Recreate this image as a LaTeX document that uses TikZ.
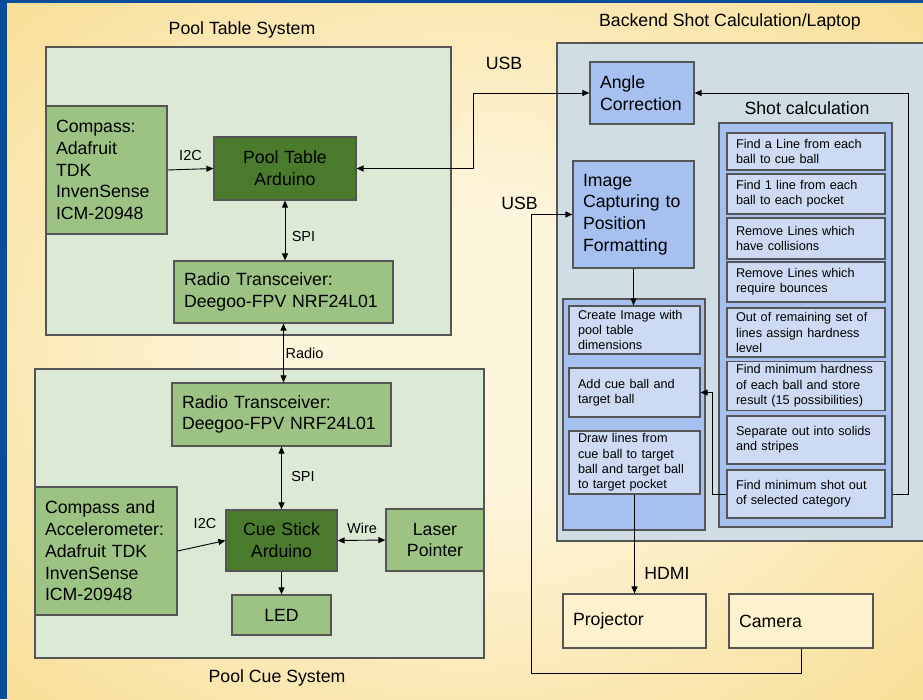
\documentclass[tikz,border=0pt]{standalone}
\usepackage{fontspec}
\setmainfont{Liberation Sans}
\usetikzlibrary{arrows.meta}

\definecolor{bgblue}{HTML}{0A4E9B}
\definecolor{bggold}{HTML}{F6D578}
\definecolor{bgcream}{HTML}{FDF5DC}
\definecolor{sysgreen}{HTML}{DCE9D5}
\definecolor{midgreen}{HTML}{9DC384}
\definecolor{darkgreen}{HTML}{4A7A2C}
\definecolor{backfill}{HTML}{D0DDE4}
\definecolor{midblue}{HTML}{A6C1EF}
\definecolor{paleblue}{HTML}{CCDBF3}
\definecolor{cream}{HTML}{FDF1CE}
\definecolor{boxline}{HTML}{555555}

\pgfdeclareradialshading{bgshade}{\pgfpoint{0bp}{0bp}}{color(0bp)=(bgcream); color(10bp)=(bgcream); color(47bp)=(bggold); color(80bp)=(bggold)}

\newcommand\boxfont{\fontsize{17.7}{21.7}\selectfont}
\newcommand\lblfont{\fontsize{14.5}{17}\selectfont}
\newcommand\stepfont{\fontsize{12.7}{15.3}\selectfont}

\begin{document}
\begin{tikzpicture}[x=1pt,y=-1pt]
\tikzstyle{sysbox}=[draw=boxline, line width=1.2pt, inner sep=0pt]
\tikzstyle{gbox}=[draw=boxline, fill=midgreen, line width=1.2pt, inner xsep=10pt, inner ysep=0pt, align=left, font=\boxfont]
\tikzstyle{bbox}=[gbox, fill=midblue]
\tikzstyle{stepbox}=[draw=boxline, fill=paleblue, line width=1.2pt, inner xsep=9pt, inner ysep=0pt, align=left, font=\stepfont]
\tikzstyle{lbl}=[font=\lblfont, inner sep=1pt]
\tikzstyle{title}=[font=\boxfont, inner sep=1pt]
\tikzstyle{link}=[line width=0.9pt, -{Triangle[length=7pt,width=6pt]}]
\tikzstyle{link2}=[line width=0.9pt, {Triangle[length=7pt,width=6pt]}-{Triangle[length=7pt,width=6pt]}]

\useasboundingbox (0,0) rectangle (923,699);
\fill[bgblue] (0,0) rectangle (923,699);
\shade[shading=bgshade] (7,3) rectangle (923,699);

% pool table system
\node[title] (pttitle) at (242,30) {Pool Table System};
\node[sysbox, fill=sysgreen, minimum width=405, minimum height=288] (ptsys) at (248.5,191) {};
\node[gbox, text width=101, minimum height=128] (compass1) at (106.5,170) {Compass:\\Adafruit\\TDK\\InvenSense\\ICM-20948};
\node[gbox, fill=darkgreen, text width=122, minimum height=63, align=center] (ptard) at (285,168.5) {Pool Table\\Arduino};
\node[gbox, text width=199, minimum height=62] (radio1) at (283.5,292) {Radio Transceiver:\\Deegoo-FPV NRF24L01};

% pool cue system
\node[sysbox, fill=sysgreen, minimum width=449, minimum height=289] (pcsys) at (259.5,513.5) {};
\node[title] (pctitle) at (277,678) {Pool Cue System};
\node[gbox, text width=199, minimum height=63] (radio2) at (281.5,414.5) {Radio Transceiver:\\Deegoo-FPV NRF24L01};
\node[gbox, text width=122, minimum height=128] (compass2) at (106,551) {Compass and\\Accelerometer:\\Adafruit TDK\\InvenSense\\ICM-20948};
\node[gbox, fill=darkgreen, text width=91, minimum height=61, align=center] (cueard) at (281.5,540.5) {Cue Stick\\Arduino};
\node[gbox, text width=78, minimum height=62, align=center] (laser) at (435,540) {Laser\\Pointer};
\node[gbox, text width=79, minimum height=40, align=center] (led) at (281.5,615) {LED};

% backend
\node[title] (betitle) at (730,22) {Backend Shot Calculation/Laptop};
\node[sysbox, fill=backfill, minimum width=380, minimum height=498] (backend) at (747,292) {};
\node[bbox, text width=84, minimum height=62] (angle) at (642,93) {Angle\\Correction};
\node[bbox, text width=101, minimum height=107] (imgcap) at (633.5,214.5) {Image\\Capturing to\\Position\\Formatting};

\node[sysbox, fill=midblue, minimum width=142, minimum height=231] (drawcont) at (634,414.5) {};
\foreach \n/\y/\h/\txt in {a/330/48/{Create Image with\\pool table\\dimensions},
                           b/392.5/49/{Add cue ball and\\target ball},
                           c/462.5/63/{Draw lines from\\cue ball to target\\ball and target ball\\to target pocket}} {
\node[stepbox, text width=113, minimum height=\h] (d\n) at (634.5,\y) {\txt};
}

\node[title] (shottitle) at (807,108) {Shot calculation};
\node[sysbox, fill=midblue, minimum width=173, minimum height=404] (shotcont) at (805.5,325) {};
\foreach \n/\y/\h/\txt in {1/151.5/37/{Find a Line from each\\ball to cue ball},
                           2/194/40/{Find 1 line from each\\ball to each pocket},
                           3/238.5/41/{Remove Lines which\\have collisions},
                           4/282/40/{Remove Lines which\\require bounces},
                           5/332.5/49/{Out of remaining set of\\lines assign hardness\\level},
                           6/386/49/{Find minimum hardness\\of each ball and store\\result (15 possibilities)},
                           7/440/48/{Separate out into solids\\and stripes},
                           8/494/48/{Find minimum shot out\\of selected category}} {
\node[stepbox, text width=140, minimum height=\h] (s\n) at (806,\y) {\txt};
}

\node[gbox, fill=cream, text width=123, minimum height=54] (projector) at (634.5,621) {Projector};
\node[gbox, fill=cream, text width=124, minimum height=54] (camera) at (801,621) {Camera};

% connections
\draw[link] (compass1.east) -- (ptard.west);
\node[lbl] (i2c1) at (190.5,156) {I2C};
\draw[link2] (ptard.south) -- (ptard.south |- radio1.north);
\node[lbl] (spi1) at (303.5,237) {SPI};
\draw[link2] (radio1.south) -- (radio1.south |- radio2.north);
\node[lbl] (radiolbl) at (304.5,353) {Radio};
\draw[link2] (radio2.south) -- (cueard.north);
\node[lbl] (spi2) at (303,477) {SPI};
\draw[link] (compass2.east) -- (cueard.west);
\node[lbl] (i2c2) at (205,523) {I2C};
\draw[link2] (cueard.east) -- (laser.west);
\node[lbl] (wire) at (362,528) {Wire};
\draw[link] (cueard.south) -- (led.north);

\coordinate (usbtop) at (473,93);
\draw[link2] (ptard.east) -| (usbtop) -- (angle.west);
\node[title] (usb1) at (504,63) {USB};

\coordinate (usbcorner) at (531,673);
\draw[link] (camera.south) |- (usbcorner) |- (imgcap.west);
\node[title] (usb2) at (519.5,203) {USB};

\draw[link] (imgcap.south) -- (imgcap.south |- da.north);
\draw[link] (dc.south) -- (projector.north);
\node[title] (hdmi) at (667,573) {HDMI};

\draw[link] (s8.west) -- ++(-14,0) |- (db.east);
\draw[link] (shotcont.east |- s8) -- ++(16,0) |- (angle.east);
\end{tikzpicture}
\end{document}
